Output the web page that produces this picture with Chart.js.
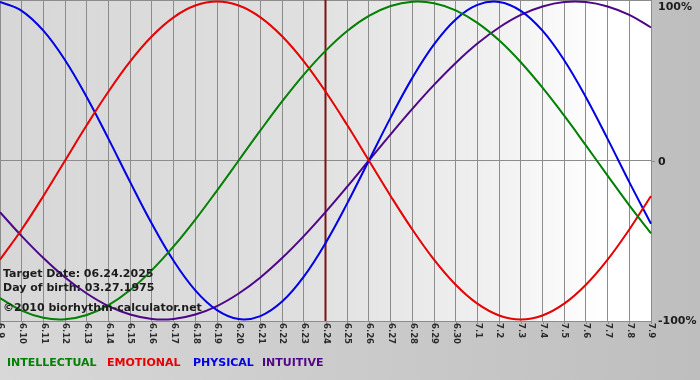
<!DOCTYPE html>
<html>
<head>
<meta charset="utf-8">
<title>Biorhythm</title>
<script src="https://cdn.jsdelivr.net/npm/chart.js@4.4.1/dist/chart.umd.min.js"></script>
<style>
  html, body { margin: 0; padding: 0; background: #c8c8c8; }
  canvas { display: block; }
</style>
</head>
<body>
<canvas id="bioChart" width="700" height="380"></canvas>
<script>
// days shown on the x axis (06.09 - 07.09)
const days = ["6.9", "6.10", "6.11", "6.12", "6.13", "6.14", "6.15", "6.16", "6.17", "6.18",
  "6.19", "6.20", "6.21", "6.22", "6.23", "6.24", "6.25", "6.26", "6.27", "6.28", "6.29", "6.30",
  "7.1", "7.2", "7.3", "7.4", "7.5", "7.6", "7.7", "7.8", "7.9"];

const targetDay = "6.24";

const intellectual = [-0.866, -0.945, -0.990, -0.999, -0.972, -0.910, -0.815, -0.690, -0.541, -0.372,
  -0.189, 0, 0.189, 0.372, 0.541, 0.690, 0.815, 0.910, 0.972, 0.999, 0.990, 0.945, 0.866, 0.756,
  0.618, 0.458, 0.282, 0.095, -0.095, -0.282, -0.458];
const emotional = [-0.624, -0.434, -0.223, 0, 0.223, 0.434, 0.624, 0.782, 0.901, 0.975,
  1, 0.975, 0.901, 0.782, 0.624, 0.434, 0.223, 0, -0.223, -0.434, -0.624, -0.782, -0.901, -0.975,
  -1, -0.975, -0.901, -0.782, -0.624, -0.434, -0.223];
const physical = [0.998, 0.942, 0.817, 0.631, 0.398, 0.136, -0.136, -0.398, -0.631, -0.817,
  -0.942, -0.998, -0.979, -0.888, -0.731, -0.520, -0.270, 0, 0.270, 0.520, 0.731, 0.888, 0.979, 0.998,
  0.942, 0.817, 0.631, 0.398, 0.136, -0.136, -0.398];
const intuitive = [-0.325, -0.476, -0.614, -0.736, -0.837, -0.916, -0.969, -0.997, -0.997, -0.969,
  -0.916, -0.837, -0.736, -0.614, -0.476, -0.325, -0.165, 0, 0.165, 0.325, 0.476, 0.614, 0.736, 0.837,
  0.916, 0.969, 0.997, 0.997, 0.969, 0.916, 0.837];

const yTickValues = [1, 0, -1];
const yTickLabels = ["100%", "0", "-100%"];

const infoLines = ["Target Date: 06.24.2025", "Day of birth: 03.27.1975", "\u00a92010 biorhythm-calculator.net"];

const SERIES = [
  { name: "INTELLECTUAL", data: intellectual, color: "#008000" },
  { name: "EMOTIONAL",    data: emotional,    color: "#e60000" },
  { name: "PHYSICAL",     data: physical,     color: "#0000e6" },
  { name: "INTUITIVE",    data: intuitive,    color: "#4e0788" },
];

const GRID = "#8c8c8c";
const TEXT = "#1c1c1c";
const BOLD11 = "bold 11px 'DejaVu Sans', Verdana, sans-serif";

// backgrounds, borders, target day line
const backdrop = {
  id: "backdrop",
  beforeDraw(chart) {
    const { ctx, chartArea: a, width, height } = chart;
    ctx.save();
    let g = ctx.createLinearGradient(0, 0, width, 0);
    g.addColorStop(0, "#d8d8d8");
    g.addColorStop(1, "#bebebe");
    ctx.fillStyle = g;
    ctx.fillRect(0, 0, width, height);

    g = ctx.createLinearGradient(a.left, 0, a.right, 0);
    g.addColorStop(0, "#d7d7d7");
    g.addColorStop(0.45, "#dfdfdf");
    g.addColorStop(0.75, "#f0f0f0");
    g.addColorStop(0.93, "#ffffff");
    g.addColorStop(1, "#ffffff");
    ctx.fillStyle = g;
    ctx.fillRect(a.left, a.top, a.right - a.left, a.bottom - a.top);
    ctx.restore();
  },
  beforeDatasetsDraw(chart) {
    const { ctx, chartArea: a, scales } = chart;
    ctx.save();
    ctx.strokeStyle = GRID;
    ctx.lineWidth = 1;
    ctx.beginPath();
    // top border
    ctx.moveTo(a.left, a.top + 0.5);
    ctx.lineTo(a.right, a.top + 0.5);
    // zero line runs a little past the plot
    const y0 = Math.round(scales.y.getPixelForValue(0)) + 0.5;
    ctx.moveTo(a.right, y0);
    ctx.lineTo(a.right + 4, y0);
    // tick marks below the plot
    days.forEach((d, i) => {
      const x = Math.round(scales.x.getPixelForValue(i)) + 0.5;
      ctx.moveTo(x, a.bottom);
      ctx.lineTo(x, a.bottom + 3);
    });
    ctx.stroke();

    const xt = scales.x.getPixelForValue(days.indexOf(targetDay));
    ctx.strokeStyle = "#7a1414";
    ctx.lineWidth = 2;
    ctx.beginPath();
    ctx.moveTo(xt, a.top);
    ctx.lineTo(xt, a.bottom);
    ctx.stroke();
    ctx.restore();
  },
  afterDatasetsDraw(chart) {
    const { ctx } = chart;
    ctx.save();
    ctx.font = BOLD11;
    ctx.fillStyle = TEXT;
    ctx.textAlign = "left";
    ctx.textBaseline = "alphabetic";
    ctx.fillText(infoLines[0], 3, 277);
    ctx.fillText(infoLines[1], 3, 291);
    ctx.fillText(infoLines[2], 3, 311);
    ctx.restore();
  },
  afterDraw(chart) {
    const { ctx, chartArea: a, scales } = chart;
    ctx.save();

    // rotated day labels
    ctx.font = "bold 8.5px 'DejaVu Sans', Verdana, sans-serif";
    ctx.fillStyle = "#2a2a2a";
    ctx.textAlign = "left";
    ctx.textBaseline = "middle";
    days.forEach((d, i) => {
      const x = scales.x.getPixelForValue(i);
      ctx.save();
      ctx.translate(x + 0.5, a.bottom + 2);
      ctx.rotate(Math.PI / 2);
      ctx.fillText(d, 0, 0);
      ctx.restore();
    });

    // percent labels on the right
    ctx.font = BOLD11;
    ctx.fillStyle = TEXT;
    ctx.textBaseline = "middle";
    yTickValues.forEach((v, i) => {
      const y = Math.max(scales.y.getPixelForValue(v) + 1.5, 7);
      ctx.fillText(yTickLabels[i], a.right + 7, y);
    });

    // legend
    const legendX = [7, 107, 193, 262];
    ctx.textBaseline = "alphabetic";
    SERIES.forEach((s, i) => {
      ctx.fillStyle = s.color;
      ctx.fillText(s.name, legendX[i], 366);
    });
    ctx.restore();
  }
};

new Chart(document.getElementById("bioChart"), {
  type: "line",
  data: {
    labels: days,
    datasets: SERIES.map(s => ({
      label: s.name,
      data: s.data,
      borderColor: s.color,
      backgroundColor: s.color,
      borderWidth: 2,
      pointRadius: 0,
      tension: 0.4,
      fill: false,
    })),
  },
  options: {
    responsive: false,
    animation: false,
    layout: { padding: { top: 0, left: 0, right: 49, bottom: 59 } },
    plugins: { legend: { display: false }, tooltip: { enabled: false } },
    scales: {
      x: {
        type: "category",
        offset: false,
        ticks: { display: false },
        grid: { color: GRID, lineWidth: 1, drawTicks: false },
        border: { display: true, color: GRID, width: 1 },
      },
      y: {
        min: -1.01,
        max: 1.01,
        ticks: { display: false, stepSize: 1.01 },
        grid: {
          drawTicks: false,
          lineWidth: 1,
          color: ctx => (ctx.tick && Math.abs(ctx.tick.value) < 1e-9 ? GRID : "rgba(0,0,0,0)"),
        },
        border: { display: false },
      },
    },
  },
  plugins: [backdrop],
});
</script>
</body>
</html>
